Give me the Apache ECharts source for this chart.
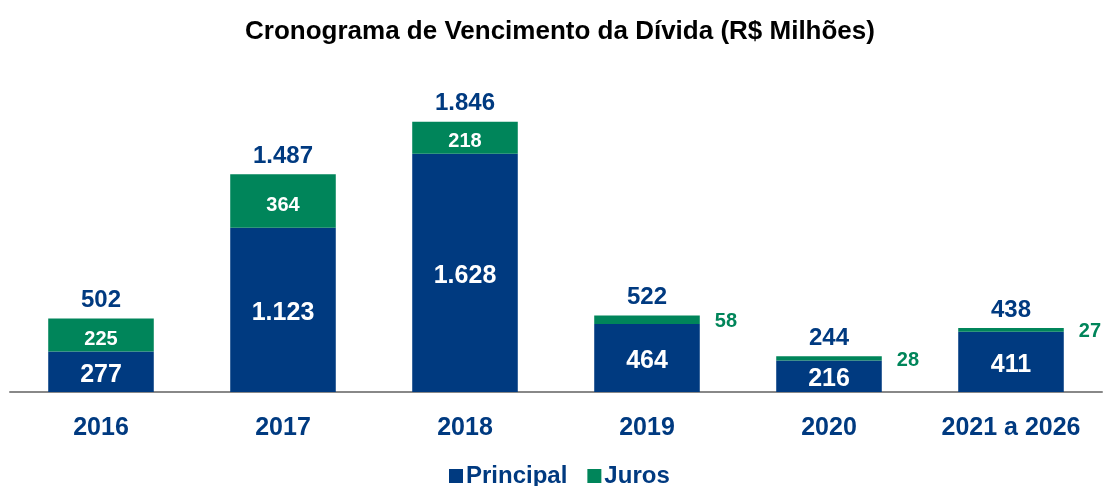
<!DOCTYPE html>
<html><head><meta charset="utf-8">
<script src="https://cdn.jsdelivr.net/npm/echarts@6/dist/echarts.min.js"></script>
<style>html,body{margin:0;padding:0;background:#fff}#c{width:1103px;height:486px}</style>
</head><body><div id="c"></div>
<script>
const categories = ['2016','2017','2018','2019','2020','2021 a 2026'];
const principal = [277,1123,1628,464,216,411];
const juros = [225,364,218,58,28,27];
const totals = [502,1487,1846,522,244,438];
const smallJuros = [false,false,false,true,true,true];

const BLUE = '#003a80', GREEN = '#00855a';
const fmt = v => v.toLocaleString('de-DE');
const F = 'Liberation Sans, Arial, sans-serif';

const chart = echarts.init(document.getElementById('c'));
chart.setOption({
  animation:false,
  title:{text:'Cronograma de Vencimento da Dívida (R$ Milhões)',left:555,textAlign:'center',top:14,
    textStyle:{fontFamily:F,fontSize:26,fontWeight:'bold',color:'#000'}},
  legend:{bottom:-7,left:444,itemWidth:14,itemHeight:14,itemGap:20,icon:'rect',
    data:['Principal','Juros'],
    textStyle:{fontFamily:F,fontSize:24,fontWeight:'bold',color:BLUE,padding:[0,0,0,-2]}},
  grid:{left:10,right:1,top:70,bottom:94,containLabel:false},
  xAxis:{type:'category',data:categories,
    axisLine:{lineStyle:{color:'#888',width:2}},axisTick:{show:false},
    axisLabel:{fontFamily:F,fontSize:25,fontWeight:'bold',color:BLUE,margin:24}},
  yAxis:{type:'value',min:0,max:2200,show:false,splitLine:{show:false}},
  series:[
    {name:'Principal',type:'bar',stack:'a',barWidth:'58%',data:principal,
      itemStyle:{color:BLUE},
      label:{show:true,position:'inside',offset:[0,3],color:'#fff',fontFamily:F,fontSize:25,fontWeight:'bold',
        formatter:p=>fmt(p.value)}},
    {name:'Juros',type:'bar',stack:'a',barWidth:'58%',
      data:juros.map((v,i)=>smallJuros[i]
        ? {value:v,label:{position:'right',distance:15,color:GREEN,fontSize:20,offset:[0,2]}}
        : {value:v}),
      itemStyle:{color:GREEN},
      label:{show:true,position:'inside',offset:[0,4],color:'#fff',fontFamily:F,fontSize:20,fontWeight:'bold',
        formatter:p=>fmt(p.value)}},
    {name:'Total',type:'bar',stack:'a',barWidth:'58%',data:totals.map(()=>0),
      itemStyle:{color:'transparent'},
      label:{show:true,position:'top',distance:6,color:BLUE,fontFamily:F,fontSize:24,fontWeight:'bold',
        formatter:p=>fmt(totals[p.dataIndex])}}
  ]
});
</script></body></html>
